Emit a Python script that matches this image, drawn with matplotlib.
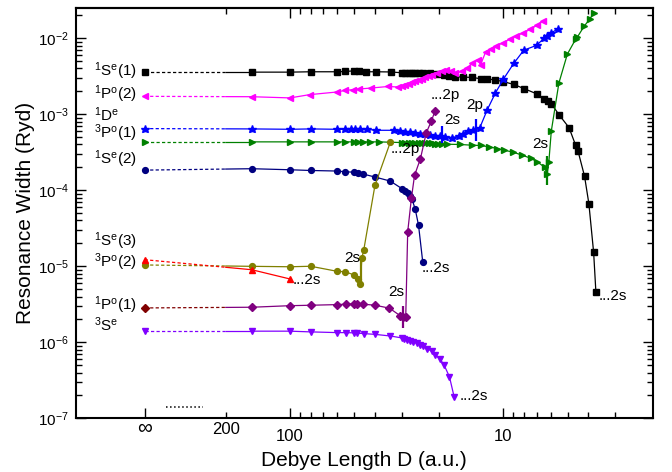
import numpy as np
import matplotlib
matplotlib.use('Agg')
import matplotlib.pyplot as plt
from matplotlib.ticker import FixedLocator, FuncFormatter, LogLocator, NullFormatter
from matplotlib.transforms import blended_transform_factory

plt.rcParams['font.family'] = ['Liberation Sans', 'DejaVu Sans']
plt.rcParams['mathtext.fontset'] = 'custom'
plt.rcParams['mathtext.rm'] = 'Liberation Sans'
plt.rcParams['mathtext.it'] = 'Liberation Sans:italic'
plt.rcParams['mathtext.bf'] = 'Liberation Sans:bold'

# position on the axis where the D = infinity values are drawn
D_INF = 480.0

# ---- data: Debye length D (a.u.) and resonance width (Ryd) ----
# 1Se(1), black squares
inf_1Se1 = 3.58e-3
D_1Se1 = [151, 100, 80, 60, 55, 50, 47.6, 44, 39.5, 33.8, 29.9, 28.8, 27.8, 26.8, 25.9, 25, 23.7, 22,
          20.5, 18.9, 17.9, 16.8, 15.4, 14, 12.8, 11.9, 11, 10, 8.95, 8, 7, 6.47, 6.2, 5.97, 5.5, 4.93,
          4.59, 4.48, 4.17, 3.98, 3.78, 3.69]
W_1Se1 = [3.58e-3, 3.58e-3, 3.62e-3, 3.62e-3, 3.65e-3, 3.73e-3, 3.73e-3, 3.62e-3, 3.62e-3, 3.6e-3,
          3.51e-3, 3.51e-3, 3.51e-3, 3.5e-3, 3.5e-3, 3.46e-3, 3.46e-3, 3.46e-3, 3.40e-3, 3.27e-3,
          3.14e-3, 3.11e-3, 3.08e-3, 3.05e-3, 2.93e-3, 2.90e-3, 2.84e-3, 2.68e-3, 2.47e-3, 2.17e-3,
          1.86e-3, 1.60e-3, 1.51e-3, 1.38e-3, 9.9e-4, 6.67e-4, 3.91e-4, 3.33e-4, 1.53e-4, 6.68e-5,
          1.52e-5, 4.63e-6]

# 1Po(2), magenta left triangles
inf_1Po2 = 1.72e-3
D_1Po2 = [151, 100, 81, 60.4, 55.2, 50.8, 47.3, 41.8, 34.6, 31.3, 29.9, 28.8, 27.8, 26.8, 25.9, 25,
          24.1, 23.2, 22.4, 21.6, 20.5, 19.4, 18.5, 17.7, 16.8, 15.6, 14.8, 14, 13.2, 12.8, 12.1, 11.5,
          10.8, 10, 9.34, 8.69, 8.08, 7.47, 6.95, 6.51]
W_1Po2 = [1.70e-3, 1.64e-3, 1.81e-3, 1.96e-3, 2.06e-3, 2.10e-3, 2.15e-3, 2.21e-3, 2.32e-3, 2.28e-3,
          2.32e-3, 2.42e-3, 2.52e-3, 2.62e-3, 2.70e-3, 2.81e-3, 2.93e-3, 3.05e-3, 3.21e-3, 3.30e-3,
          3.48e-3, 3.65e-3, 3.84e-3, 3.76e-3, 3.48e-3, 3.65e-3, 4.05e-3, 4.70e-3, 5.20e-3, 4.47e-3,
          6.67e-3, 7.18e-3, 7.93e-3, 8.76e-3, 9.70e-3, 1.07e-2, 1.18e-2, 1.31e-2, 1.49e-2, 1.69e-2]

# 3Po(1), blue stars
inf_3Po1 = 6.47e-4
D_3Po1 = [151, 100, 80, 60.4, 55.2, 51.9, 49.5, 46.9, 43.6, 39.5, 32.7, 30.5, 28.8, 27.3, 25.9, 24.5,
          23.2, 22.0, 20.9, 19.8, 18.7, 17.4, 16.2, 15.4, 14.7, 13.9, 12.9, 11.9, 10.9, 10, 8.95, 8.03,
          7.0, 6.47, 6.24, 6.02, 5.58]
W_3Po1 = [6.41e-4, 6.34e-4, 6.41e-4, 6.34e-4, 6.34e-4, 6.34e-4, 6.34e-4, 6.34e-4, 6.34e-4, 6.15e-4,
          6.15e-4, 6.04e-4, 5.92e-4, 5.79e-4, 5.69e-4, 5.57e-4, 5.45e-4, 5.35e-4, 5.25e-4, 5.13e-4,
          5.01e-4, 4.94e-4, 5.13e-4, 5.57e-4, 5.97e-4, 6.28e-4, 6.67e-4, 1.15e-3, 1.91e-3, 2.90e-3,
          4.67e-3, 6.96e-3, 8.05e-3, 9.94e-3, 1.07e-2, 1.16e-2, 1.32e-2]

# 1De, green right triangles
inf_1De = 4.33e-4
D_1De = [151, 100, 80, 60.4, 55.2, 50.4, 47.8, 45.6, 42.1, 38.5, 29.9, 28.8, 27.8, 26.8, 25.9, 25,
         24.1, 23.2, 22.4, 21.6, 20.9, 20.2, 19.4, 18.4, 15.9, 14, 12.8, 11.7, 10.7, 9.89, 9.0, 8.17,
         7.46, 6.95, 6.42, 6.24, 6.13, 5.97, 5.5, 5.02, 4.59, 4.51, 4.18, 3.95, 3.77]
W_1De = [4.33e-4, 4.33e-4, 4.33e-4, 4.33e-4, 4.33e-4, 4.33e-4, 4.33e-4, 4.33e-4, 4.33e-4, 4.33e-4,
         4.24e-4, 4.24e-4, 4.22e-4, 4.22e-4, 4.2e-4, 4.2e-4, 4.18e-4, 4.18e-4, 4.15e-4, 4.15e-4,
         4.12e-4, 4.1e-4, 4.08e-4, 4.03e-4, 4.0e-4, 3.91e-4, 3.88e-4, 3.73e-4, 3.54e-4, 3.36e-4,
         3.17e-4, 2.89e-4, 2.64e-4, 2.37e-4, 2.01e-4, 1.62e-4, 2.34e-4, 5.97e-4, 2.57e-3, 6.17e-3,
         9.70e-3, 1.03e-2, 1.45e-2, 1.77e-2, 2.17e-2]

# 1Se(2), navy circles
inf_1Se2 = 1.84e-4
D_1Se2 = [151, 100, 80, 60.4, 55.2, 50.4, 47.8, 45.3, 39.9, 33.9, 29.9, 28.8, 28.1, 27.3, 26.8, 25.9,
          25, 23.9]
W_1Se2 = [1.92e-4, 1.86e-4, 1.82e-4, 1.79e-4, 1.75e-4, 1.73e-4, 1.70e-4, 1.63e-4, 1.49e-4, 1.32e-4,
          1.05e-4, 9.76e-5, 9.11e-5, 8.40e-5, 7.6e-5, 5.62e-5, 3.47e-5, 1.15e-5]

# 1Se(3), red up triangles
inf_1Se3 = 1.22e-5
D_1Se3 = [151, 100]
W_1Se3 = [9.0e-6, 6.8e-6]

# 3Po(2), olive circles
inf_3Po2 = 1.04e-5
D_3Po2 = [151, 100, 80, 60, 55, 50.1, 47.9, 46.8, 46.1, 45.1, 40.0, 33.9]
W_3Po2 = [9.98e-6, 9.85e-6, 1.0e-5, 8.57e-6, 8.47e-6, 7.67e-6, 6.73e-6, 5.85e-6, 1.27e-5, 1.66e-5,
          1.16e-4, 4.28e-4]

# 1Po(1), purple diamonds
inf_1Po1 = 2.83e-6
D_1Po1 = [151, 100, 80, 60, 54.8, 50.4, 48.3, 45.3, 39.9, 34.2, 30.5, 29.4, 28.7, 28.1, 27.0, 26.1,
          24.5, 23.0, 21.8, 20.9]
W_1Po1 = [2.89e-6, 3.03e-6, 3.07e-6, 3.13e-6, 3.17e-6, 3.20e-6, 3.20e-6, 3.17e-6, 3.07e-6, 2.81e-6,
          2.24e-6, 2.14e-6, 2.14e-6, 2.83e-5, 7.83e-5, 1.57e-4, 2.59e-4, 5.69e-4, 8.07e-4, 1.11e-3]

# 3Se, violet down triangles
inf_3Se = 1.40e-6
D_3Se = [151, 100, 80, 60, 54.8, 50.4, 48.3, 44.9, 39.9, 33.9, 29.9, 29.1, 28.3, 27.3, 26.4, 25.4,
         24.5, 23.7, 22.7, 21.7, 20.9, 19.9, 19.0, 17.9, 17.0]
W_3Se = [1.40e-6, 1.40e-6, 1.37e-6, 1.34e-6, 1.34e-6, 1.33e-6, 1.32e-6, 1.30e-6, 1.27e-6, 1.21e-6,
         1.14e-6, 1.11e-6, 1.08e-6, 1.05e-6, 1.01e-6, 9.71e-7, 9.27e-7, 8.87e-7, 8.22e-7, 7.62e-7,
         6.86e-7, 6.08e-7, 5.07e-7, 3.50e-7, 1.88e-7]

# threshold bars (D, lower width, upper width)
thr_D = [19.4, 13.4, 6.25, 46.6, 29.4]
thr_lo = [4.2e-4, 4.41e-4, 1.19e-4, 5.67e-6, 1.53e-6]
thr_hi = [6.94e-4, 8.76e-4, 2.78e-4, 1.37e-5, 3.03e-6]
thr_col = ['#0000ff', '#0000ff', '#008000', '#808000', '#800080']

# annotations near thresholds
note_txt = ['...2p', '...2p', '2s', '2p', '2s', '2s', '...2s', '2s', '...2s', '...2s', '...2s']
note_D = [33.9, 21.85, 18.9, 14.96, 7.33, 55.8, 24.1, 34.6, 16.0, 3.59, 96.8]
note_W = [3.44e-4, 1.77e-3, 8.32e-4, 1.34e-3, 4.12e-4, 1.28e-5, 9.47e-6, 4.55e-6, 1.95e-7, 4.03e-6, 6.59e-6]

# state labels on the left
state_txt = [r'$^{1}\mathrm{S}^{\mathrm{e}}(1)$', r'$^{1}\mathrm{P}^{\mathrm{o}}(2)$', r'$^{1}\mathrm{D}^{\mathrm{e}}$',
             r'$^{3}\mathrm{P}^{\mathrm{o}}(1)$', r'$^{1}\mathrm{S}^{\mathrm{e}}(2)$', r'$^{1}\mathrm{S}^{\mathrm{e}}(3)$',
             r'$^{3}\mathrm{P}^{\mathrm{o}}(2)$', r'$^{1}\mathrm{P}^{\mathrm{o}}(1)$', r'$^{3}\mathrm{S}^{\mathrm{e}}$']
state_W = [3.65e-3, 1.81e-3, 9.89e-4, 5.69e-4, 2.54e-4, 2.16e-5, 1.12e-5, 3.10e-6, 1.70e-6]

fig = plt.figure(figsize=(6.72, 4.72), dpi=100)
ax = fig.add_axes([0.1126, 0.1138, 0.8586, 0.8693])
ax.set_xscale('log')
ax.set_yscale('log')
ax.set_xlim(1010, 2)
ax.set_ylim(1e-7, 2.5e-2)

LW = 0.9
DASH = (0, (2.6, 1.8))


def series(d, w, w_inf, color, marker, ms, inf_color=None):
    inf_color = inf_color or color
    # straight link from the infinity point to the first point, dashed up to D = 200
    t = (np.log(D_INF) - np.log(200)) / (np.log(D_INF) - np.log(d[0]))
    w_mid = np.exp(np.log(w_inf) + t * (np.log(w[0]) - np.log(w_inf)))
    ax.plot([D_INF, 200], [w_inf, w_mid], color=inf_color, ls=DASH, lw=LW)
    ax.plot([200, d[0]], [w_mid, w[0]], color=color, lw=LW)
    ax.plot(d, w, color=color, lw=LW, marker=marker, ms=ms, mec=color, mfc=color)
    ax.plot([D_INF], [w_inf], ls='none', marker=marker, ms=ms, color=inf_color)


series(D_1Se1, W_1Se1, inf_1Se1, '#000000', 's', 3.8)
series(D_1Po2, W_1Po2, inf_1Po2, '#ff00ff', '<', 4.8)
series(D_1De, W_1De, inf_1De, '#008000', '>', 4.8)
series(D_3Po1, W_3Po1, inf_3Po1, '#0000ff', '*', 6.2)
series(D_1Se2, W_1Se2, inf_1Se2, '#000080', 'o', 4.2)
series(D_3Po2, W_3Po2, inf_3Po2, '#808000', 'o', 4.2)
series(D_1Se3, W_1Se3, inf_1Se3, '#ff0000', '^', 4.8)
series(D_1Po1, W_1Po1, inf_1Po1, '#800080', 'D', 3.6, inf_color='#800000')
series(D_3Se, W_3Se, inf_3Se, '#8000ff', 'v', 4.8)

ax.vlines(thr_D, thr_lo, thr_hi, colors=thr_col, lw=1.6)

for txt, d, w in zip(note_txt, note_D, note_W):
    ax.text(d, w, txt, fontsize=11, ha='left', va='center')

for txt, w in zip(state_txt, state_W):
    ax.text(832, w, txt, fontsize=11, ha='left', va='center')

# axis-break dots at the bottom left
ax.plot([0.1565, 0.221], [0.028, 0.028], transform=ax.transAxes, color='k', ls=':', lw=1.1)

# x ticks
ax.xaxis.set_major_locator(FixedLocator([D_INF, 100, 10]))
ax.xaxis.set_major_formatter(FuncFormatter(lambda v, p: '' if v > 300 else '%d' % round(v)))
minors = [200, 90, 80, 70, 60, 50, 40, 30, 20, 9, 8, 7, 6, 5, 4, 3]
ax.xaxis.set_minor_locator(FixedLocator(minors))
ax.xaxis.set_minor_formatter(FuncFormatter(lambda v, p: '200' if abs(v - 200) < 1 else ''))
bt = blended_transform_factory(ax.transData, ax.transAxes)
ax.text(D_INF, -0.024, '\u221e', transform=bt, ha='center', va='center', fontsize=15)

# y ticks
ax.yaxis.set_major_locator(LogLocator(base=10, numticks=12))
ax.yaxis.set_minor_locator(LogLocator(base=10, subs=np.arange(2, 10), numticks=12))
ax.yaxis.set_minor_formatter(NullFormatter())
ax.yaxis.set_major_formatter(FuncFormatter(lambda v, p: r'$10^{%d}$' % round(np.log10(v))))

ax.tick_params(which='both', direction='in', right=True, top=False, width=1.0)
ax.tick_params(which='major', length=7)
ax.tick_params(which='minor', length=4)
ax.tick_params(axis='x', which='major', pad=7.5, labelsize=12)
ax.tick_params(axis='x', which='minor', pad=2.5, labelsize=12)
ax.tick_params(axis='y', which='major', pad=5, labelsize=11)

top = ax.secondary_xaxis('top')
top.xaxis.set_major_locator(FixedLocator([100, 10]))
top.xaxis.set_minor_locator(FixedLocator(minors))
top.xaxis.set_major_formatter(NullFormatter())
top.xaxis.set_minor_formatter(NullFormatter())
top.tick_params(which='both', direction='in', width=1.0)
top.tick_params(which='major', length=7)
top.tick_params(which='minor', length=4)

for sp in list(ax.spines.values()) + list(top.spines.values()):
    sp.set_linewidth(1.5)

ax.set_xlabel('Debye Length D (a.u.)', fontsize=15, labelpad=5)
ax.set_ylabel('Resonance Width (Ryd)', fontsize=15, labelpad=2)

fig.savefig('out.png', dpi=100)
